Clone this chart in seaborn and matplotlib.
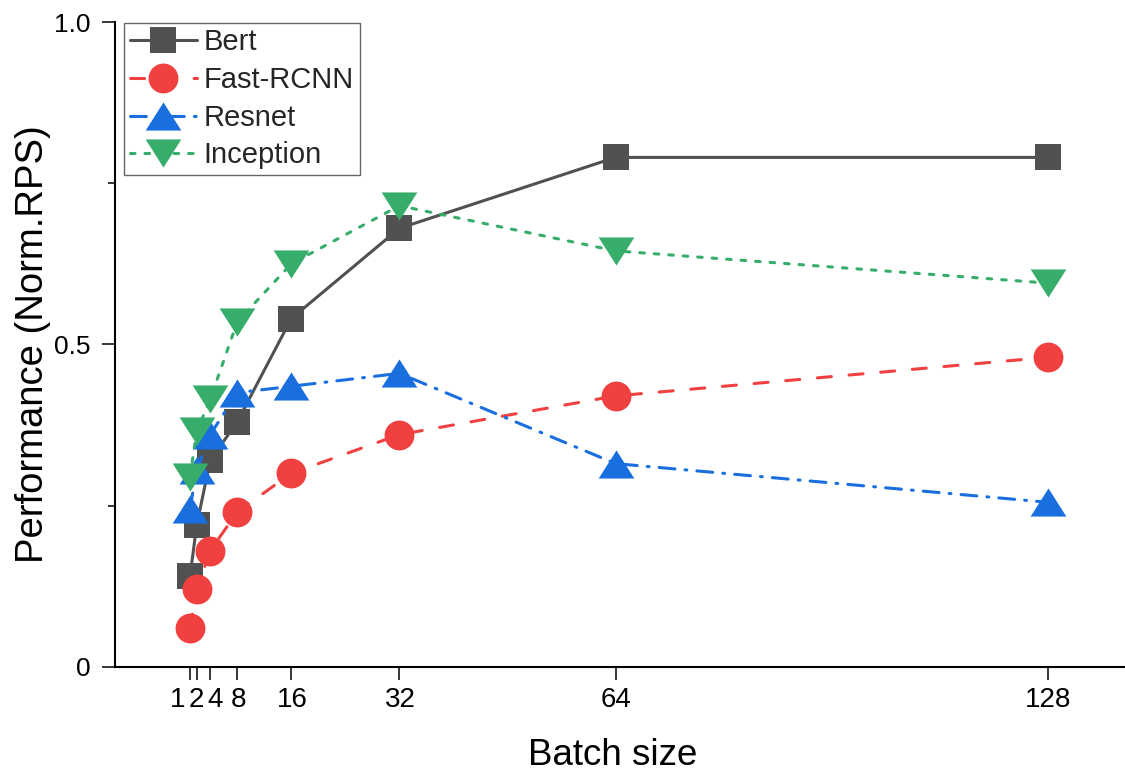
import numpy as np
import pandas as pd
import matplotlib
matplotlib.use("Agg")
import matplotlib.pyplot as plt
import matplotlib.transforms as mtransforms
import seaborn as sns

# Throughput per model, normalised, for each batch size
batch = [1, 2, 4, 8, 16, 32, 64, 128]
bert = [0.14, 0.22, 0.32, 0.38, 0.54, 0.68, 0.79, 0.79]
fast_rcnn = [0.06, 0.12, 0.18, 0.24, 0.30, 0.36, 0.42, 0.48]
resnet = [0.245, 0.305, 0.36, 0.425, 0.435, 0.455, 0.315, 0.255]
inception = [0.295, 0.365, 0.415, 0.535, 0.625, 0.715, 0.645, 0.595]

models = ["Bert", "Fast-RCNN", "Resnet", "Inception"]
x_tick_labels = ["1", "2", "4", "8", "16", "32", "64", "128"]
y_ticks = [0, 0.5, 1.0]
y_tick_labels = ["0", "0.5", "1.0"]

df = pd.DataFrame({
    "Batch size": batch * 4,
    "Performance": bert + fast_rcnn + resnet + inception,
    "Model": np.repeat(models, len(batch)),
})

sns.set_theme(style="ticks")
plt.rcParams["font.family"] = ["Liberation Sans", "DejaVu Sans"]

# Wide triangles (width > height)
tri_up = [(-1.27, -1.0), (1.27, -1.0), (0.0, 1.0), (-1.27, -1.0)]
tri_down = [(-1.27, 1.0), (1.27, 1.0), (0.0, -1.0), (-1.27, 1.0)]

styles = {
    "Bert": dict(color="#515151", marker="s", markersize=19, linestyle="-"),
    "Fast-RCNN": dict(color="#F14040", marker="o", markersize=21.5,
                      dashes=(4.6, 5.8), dash_capstyle="round"),
    "Resnet": dict(color="#1A6FDF", marker=tri_up, markersize=25.7,
                   dashes=(5.2, 3.3, 0.6, 3.3), dash_capstyle="round"),
    "Inception": dict(color="#37AD6B", marker=tri_down, markersize=25.7,
                      dashes=(1.5, 3.25), dash_capstyle="round"),
}

fig = plt.figure(figsize=(11.25, 7.72), dpi=100)
ax = fig.add_axes([115 / 1125, (772 - 666.7) / 772, 1010 / 1125, 644.7 / 772])

for name in models:
    sub = df[df["Model"] == name]
    st = styles[name]
    sns.lineplot(data=sub, x="Batch size", y="Performance", ax=ax, label=name,
                 linewidth=2.2, markeredgewidth=0, markeredgecolor=st["color"],
                 **st)

ax.set_xlim(-10.1, 139.4)
ax.set_ylim(0, 1.0)

ax.set_xticks(batch)
ax.set_xticklabels(x_tick_labels)
ax.set_yticks(y_ticks)
ax.set_yticklabels(y_tick_labels)
ax.set_yticks([0.25, 0.75], minor=True)

ax.tick_params(axis="both", which="major", direction="out", length=9.4, width=1.1,
               color="black", labelcolor="black")
ax.tick_params(axis="y", which="major", pad=8, labelsize=19)
ax.tick_params(axis="x", which="major", pad=5, labelsize=20)
ax.tick_params(axis="y", which="minor", direction="out", length=5, width=1.1, color="black")

# Spread the crowded small-batch labels apart
shifts_pt = [-8.6, 0.0, 3.6, 0.7, 0.7, 1.0, 0, 0]
for lbl, dx in zip(ax.get_xticklabels(), shifts_pt):
    if dx:
        lbl.set_transform(lbl.get_transform()
                          + mtransforms.ScaledTranslation(dx / 72, 0, fig.dpi_scale_trans))

for side in ["top", "right"]:
    ax.spines[side].set_visible(False)
for side in ["left", "bottom"]:
    ax.spines[side].set_linewidth(1.5)
    ax.spines[side].set_color("black")

ax.set_xlabel("Batch size", fontsize=26.5, color="black")
ax.xaxis.set_label_coords(0.4926, -0.111)
ax.set_ylabel("Performance (Norm.RPS)", fontsize=27.5, color="black")
ax.yaxis.set_label_coords(-0.0634, 0.5)
ax.grid(False)

leg = ax.legend(loc="upper left", bbox_to_anchor=(0.009, 0.999), borderaxespad=0,
                fontsize=21, frameon=True, fancybox=False, framealpha=1,
                edgecolor="#666666", handlelength=2.3, handletextpad=0.22,
                labelspacing=0.33, borderpad=0.2, numpoints=1)
leg.get_frame().set_linewidth(1.0)

fig.savefig("out.png", dpi=100, facecolor="white")
